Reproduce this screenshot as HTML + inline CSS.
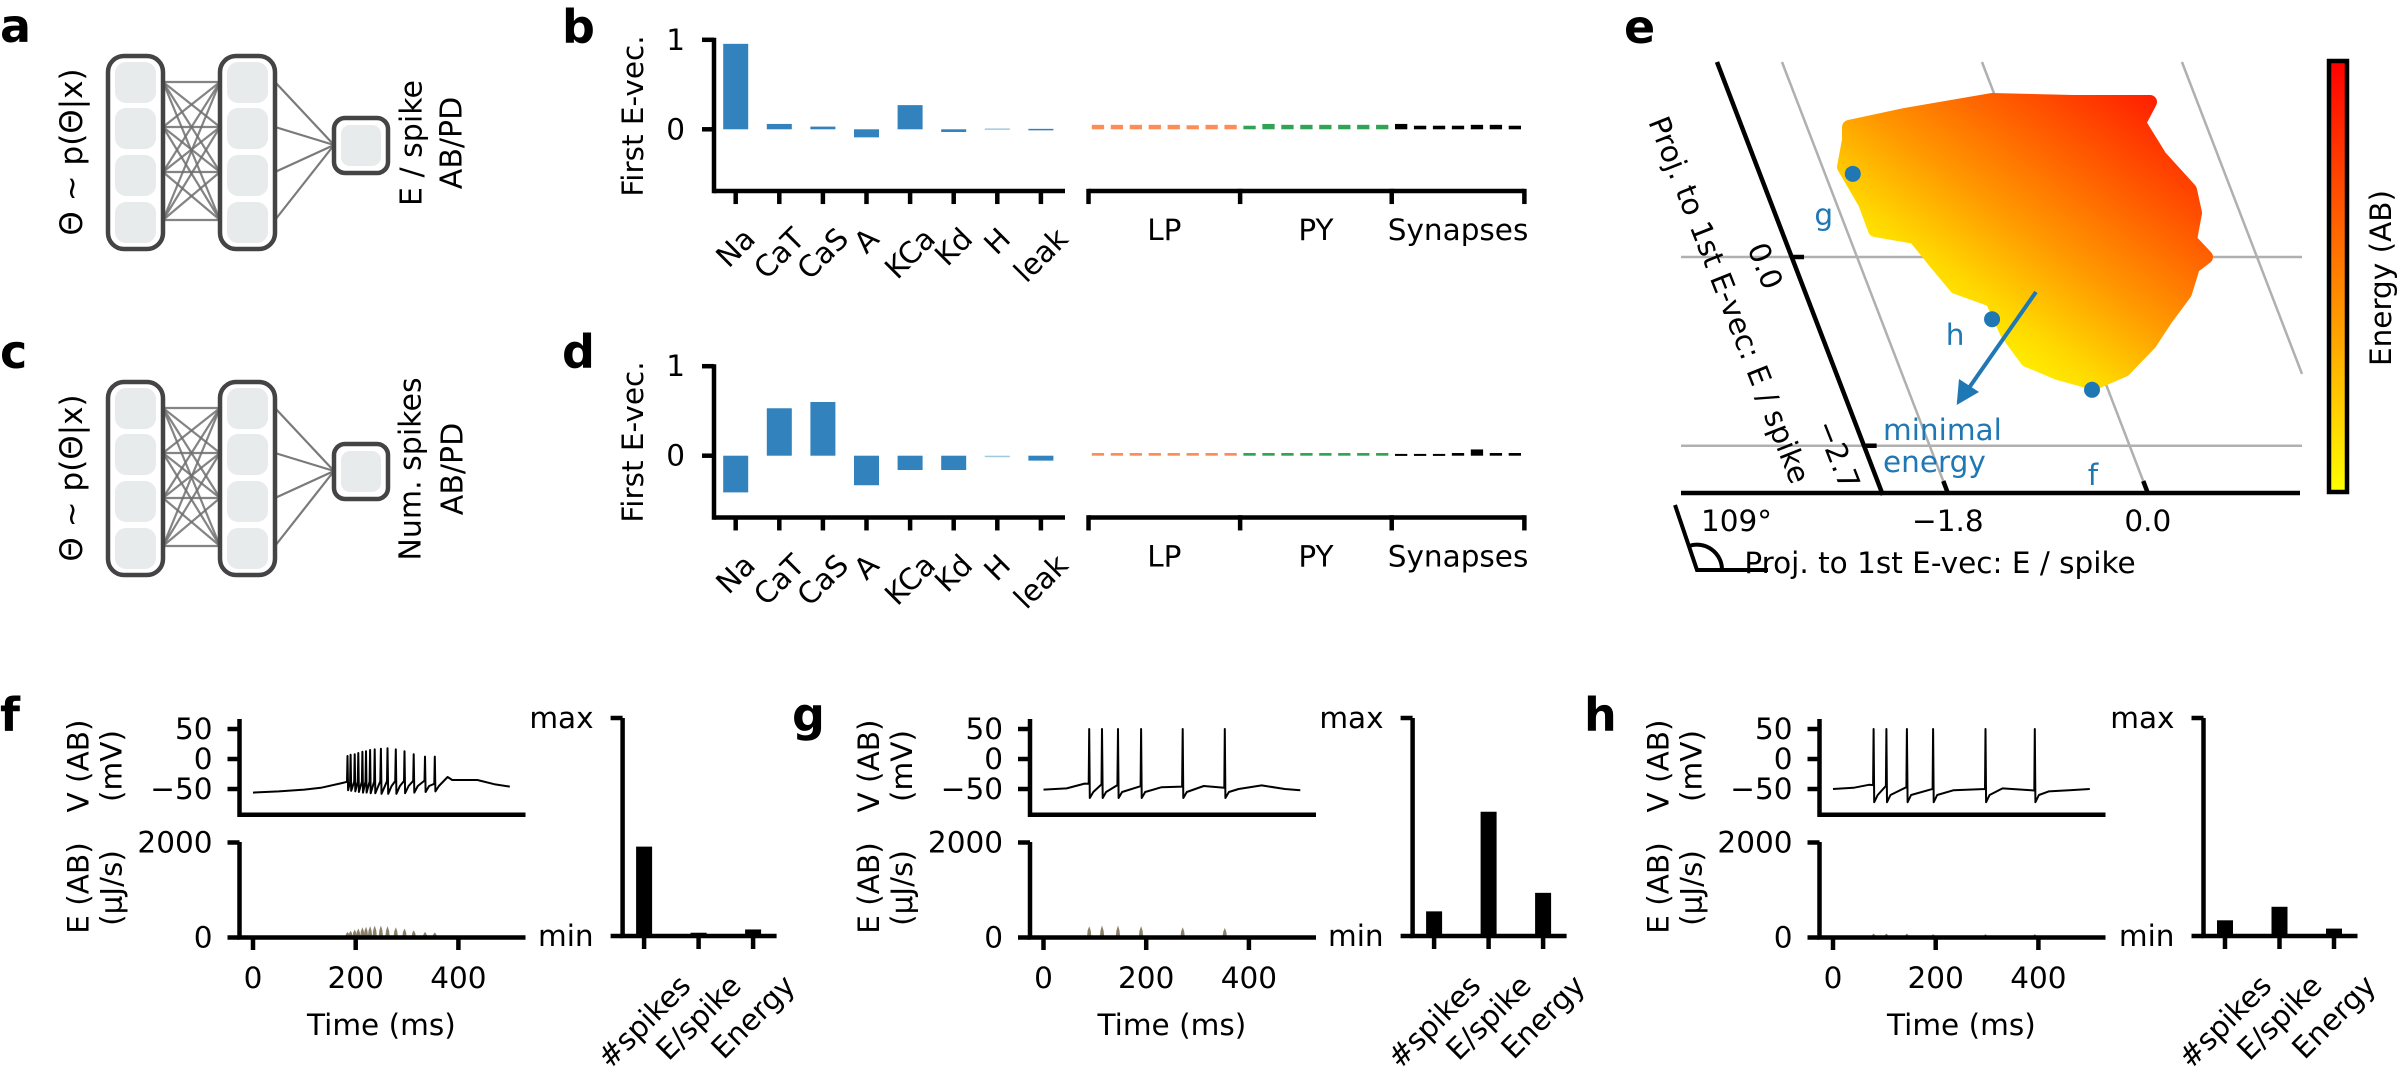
<!DOCTYPE html>
<html><head><meta charset="utf-8">
<style>
html,body{margin:0;padding:0;background:#fff}
svg{display:block}
text{font-family:"DejaVu Sans","Liberation Sans",sans-serif;fill:#000}
</style></head>
<body>
<svg id="fig" width="2398" height="1075" viewBox="0 0 2398 1075">
<defs>
<linearGradient id="cloudGrad" gradientUnits="userSpaceOnUse" x1="2150" y1="95" x2="1960" y2="360">
<stop offset="0" stop-color="#ff2000"/><stop offset="0.3" stop-color="#ff6000"/><stop offset="0.55" stop-color="#ff9800"/><stop offset="0.8" stop-color="#ffd800"/><stop offset="1" stop-color="#ffff00"/>
</linearGradient>
<linearGradient id="cbarGrad" x1="0" y1="0" x2="0" y2="1">
<stop offset="0" stop-color="#ff0000"/><stop offset="0.5" stop-color="#ff8000"/><stop offset="1" stop-color="#ffff00"/>
</linearGradient>
</defs>

<text x="0" y="42" font-size="46" font-weight="bold">a</text>
<text x="562" y="43" font-size="46" font-weight="bold">b</text>
<text x="0" y="368" font-size="46" font-weight="bold">c</text>
<text x="562" y="368" font-size="46" font-weight="bold">d</text>
<text x="1624" y="43" font-size="46" font-weight="bold">e</text>
<text x="0" y="731" font-size="46" font-weight="bold">f</text>
<text x="792" y="731" font-size="46" font-weight="bold">g</text>
<text x="1584" y="731" font-size="46" font-weight="bold">h</text>

<text transform="translate(72,152) rotate(-90)" text-anchor="middle" dominant-baseline="central" font-size="31">Θ ~ p(Θ|x)</text>
<text transform="translate(412,143) rotate(-90)" text-anchor="middle" dominant-baseline="central" font-size="30">E / spike</text>
<text transform="translate(452,143) rotate(-90)" text-anchor="middle" dominant-baseline="central" font-size="30">AB/PD</text>
<text transform="translate(72,478) rotate(-90)" text-anchor="middle" dominant-baseline="central" font-size="31">Θ ~ p(Θ|x)</text>
<text transform="translate(411,469) rotate(-90)" text-anchor="middle" dominant-baseline="central" font-size="30">Num. spikes</text>
<text transform="translate(453,469) rotate(-90)" text-anchor="middle" dominant-baseline="central" font-size="30">AB/PD</text>

<text transform="translate(633,116) rotate(-90)" text-anchor="middle" dominant-baseline="central" font-size="29.5">First E-vec.</text>
<text transform="translate(633,442) rotate(-90)" text-anchor="middle" dominant-baseline="central" font-size="29.5">First E-vec.</text>

<g id="panelE">
<polygon fill="url(#cloudGrad)" stroke="url(#cloudGrad)" stroke-width="14" stroke-linejoin="round"
points="1849,127 1905,115 1992,100 2073,102 2150,102 2139,123 2160,157 2190,190 2195,213 2190,240 2206,257 2193,267 2185,293 2165,320 2150,343 2124,370 2094,383 2058,373 2027,360 2007,333 1992,300 1956,287 1936,263 1915,237 1875,230 1865,203 1844,167 1849,140"/>
<text transform="translate(1729,300) rotate(68.5)" text-anchor="middle" dominant-baseline="central" font-size="29.5">Proj. to 1st E-vec: E / spike</text>
<text x="1940" y="573" text-anchor="middle" font-size="29.5">Proj. to 1st E-vec: E / spike</text>
<text x="1701" y="531" font-size="29.5">109°</text>
<path d="M1675,505 L1697,570 L1768,570 M1722,570 A25,25 0 0 0 1689,546" fill="none" stroke="#000" stroke-width="4"/>
<text x="1883" y="440" font-size="29.5" style="fill:#1f77b4">minimal</text>
<text x="1883" y="472" font-size="29.5" style="fill:#1f77b4">energy</text>
<rect x="2329" y="61" width="18" height="431" fill="url(#cbarGrad)" stroke="#000" stroke-width="4.5"/>
<text transform="translate(2381,278) rotate(-90)" text-anchor="middle" dominant-baseline="central" font-size="29.5">Energy (AB)</text>
</g>
</svg>

<script>
const channelLabels = ['Na','CaT','CaS','A','KCa','Kd','H','leak'];
const evecB = [0.955, 0.06, 0.03, -0.09, 0.27, -0.03, 0.01, 0.005];
const evecD = [-0.41, 0.53, 0.60, -0.33, -0.16, -0.16, -0.01, -0.055];
const lpB  = [0.05,0.05,0.05,0.05,0.05,0.045,0.05,0.05];
const pyB  = [0.04,0.06,0.05,0.05,0.05,0.05,0.05,0.05];
const synB = [0.06,0.04,0.04,0.04,0.05,0.05,0.04];
const lpD  = [0.03,0.03,0.03,0.03,0.03,0.03,0.03,0.03];
const pyD  = [0.03,0.03,0.03,0.03,0.03,0.03,0.03,0.03];
const synD = [0.02,0.02,0.02,0.03,0.07,0.03,0.03];
const groupLabels = ['LP','PY','Synapses'];
const evecTicks = [0, 1];

const eSampleLabels = ['g','h','f'];
const eSampleU = [-1.55, -0.80, -0.145];
const eSampleV = [1.19, -0.89, -1.90];
const eTicksU = [-1.8, 0.0];
const eTicksV = [0.0, -2.7];
const eGridU = [-1.8, 0.0, 1.8];

const vTicks = [50, 0, -50];
const eTicks = [2000, 0];
const timeTicks = [0, 200, 400];
const featLabels = ['#spikes','E/spike','Energy'];

const fSpikeT = [184,190,198,205,213,220,228,237,249,262,278,295,313,335,354];
const fPeak   = [5,7,8,10,12,13,15,16,17,18,16,13,8,4,4];
const fTrough = [-52,-53,-54,-55,-56,-56,-57,-57,-58,-58,-58,-57,-56,-55,-54];
const fBaseT  = [0,50,100,132,174,183,340,362,379,388,437,470,500];
const fBaseV  = [-56,-54,-51,-48,-40,-38,-36,-45,-30,-35,-35,-42,-46];
const fPostV  = -45;
const fEPeak  = [90,110,130,150,170,180,190,200,200,190,170,150,120,90,80];
const fBars   = [0.41, 0.015, 0.03];

const gSpikeT = [89,114,145,190,271,353];
const gPeak   = [50,50,50,50,50,50];
const gTrough = [-65,-65,-65,-65,-65,-65];
const gBaseT  = [0,45,80,230,312,380,425,470,500];
const gBaseV  = [-51,-49,-41,-47,-45,-50,-44,-50,-52];
const gPostV  = -55;
const gEPeak  = [190,200,200,190,170,160];
const gBars   = [0.113, 0.57, 0.198];

const hSpikeT = [79,104,144,195,297,393];
const hPeak   = [50,50,50,50,50,50];
const hTrough = [-72,-72,-72,-72,-72,-72];
const hBaseT  = [0,40,70,235,330,420,460,500];
const hBaseV  = [-50,-48,-43,-52,-49,-54,-52,-50];
const hPostV  = -60;
const hEPeak  = [60,60,60,50,50,50];
const hBars   = [0.072, 0.134, 0.034];

const NS = 'http://www.w3.org/2000/svg';
const svg = document.getElementById('fig');
function mk(tag, attrs, parent){
  const e = document.createElementNS(NS, tag);
  for (const k in attrs) e.setAttribute(k, attrs[k]);
  (parent || svg).appendChild(e);
  return e;
}
function interp(tArr, vArr, t){
  if (t <= tArr[0]) return vArr[0];
  for (let k = 1; k < tArr.length; k++){
    if (t <= tArr[k]){ const f = (t - tArr[k-1]) / (tArr[k] - tArr[k-1]); return vArr[k-1] + f * (vArr[k] - vArr[k-1]); }
  }
  return vArr[vArr.length - 1];
}
function rotLabel(str, cx, topY, fs, name){
  const t = mk('text', {'text-anchor':'middle','dominant-baseline':'central','font-size':fs});
  
  
  t.textContent = str;
  let w = 0; try { w = t.getComputedTextLength(); } catch(e){ w = str.length * fs * 0.6; }
  const cy = topY + (w + fs) * 0.7071 / 2;
  t.setAttribute('x', cx); t.setAttribute('y', cy);
  t.setAttribute('transform', 'rotate(-45,' + cx + ',' + cy + ')');
  return t;
}
const AXW = 4.5;

function drawNet(dy, tag){
  const g = mk('g', {});
  
  
  const cy = [82,127,172,220];
  for (let i = 0; i < 4; i++) for (let j = 0; j < 4; j++){
    const l = mk('line', {x1:163, y1:cy[i]+dy, x2:220, y2:cy[j]+dy, stroke:'#6e6e6e', 'stroke-width':2.2, 'stroke-opacity':0.85}, g);
    
    
  }
  for (let i = 0; i < 4; i++){
    const l = mk('line', {x1:275, y1:cy[i]+dy, x2:334, y2:145+dy, stroke:'#7a7a7a', 'stroke-width':2.2}, g);
    
    
  }
  [108, 220].forEach((x, li) => {
    const r = mk('rect', {x:x, y:56+dy, width:55, height:193, rx:16, fill:'#fff', stroke:'#444', 'stroke-width':4.5}, g);
    
    
    [62,108,155,202].forEach(yy => {
      const c = mk('rect', {x:x+7, y:yy+dy, width:41, height:41, rx:11, fill:'#e8ebeb'}, g);
      
      
    });
  });
  const o = mk('rect', {x:334, y:118+dy, width:54, height:55, rx:11, fill:'#fff', stroke:'#444', 'stroke-width':4.5}, g);
  
  
  const oc = mk('rect', {x:341, y:125+dy, width:40, height:41, rx:9, fill:'#e8ebeb'}, g);
  
  
}
drawNet(0, 'a');
drawNet(326, 'c');

function drawEvec(dy, vals, lp, py, syn, tag){
  const zero = 129.3 + dy, unit = 89.5, axisY = zero + 0.69 * unit, yAx = 714;
  const yS = v => zero - v * unit;
  const chanX = i => 735.7 + i * 43.6;
  const parX = i => 1098 + i * 18.95;
  vals.forEach((v, i) => {
    const r = mk('rect', {x:chanX(i)-12.5, y:Math.min(yS(v), zero), width:25, height:Math.max(Math.abs(yS(v)-zero), 1.5), fill: i===6 ? '#9ecae1' : '#3182bd'});
    
    
  });
  const groups = [[lp,'#fc8d59',0],[py,'#31a354',8],[syn,'#000',16]];
  groups.forEach((gr, gi) => {
    gr[0].forEach((v, k) => {
      const i = gr[2] + k;
      const r = mk('rect', {x:parX(i)-6.2, y:Math.min(yS(v), zero), width:12.3, height:Math.max(Math.abs(yS(v)-zero), 2), fill:gr[1]});
      
      
    });
  });
  const ya = mk('line', {x1:yAx, y1:yS(1)-2, x2:yAx, y2:axisY+AXW/2, stroke:'#000', 'stroke-width':AXW});
  
  
  evecTicks.forEach(t => {
    const tk = mk('line', {x1:yAx-12, y1:yS(t), x2:yAx, y2:yS(t), stroke:'#000', 'stroke-width':AXW});
    
    
    const tl = mk('text', {x:yAx-29, y:yS(t), 'text-anchor':'end', 'dominant-baseline':'central', 'font-size':29.5});
    
    
    tl.textContent = String(t);
  });
  const xa = mk('line', {x1:yAx, y1:axisY, x2:1065, y2:axisY, stroke:'#000', 'stroke-width':AXW});
  
  
  channelLabels.forEach((c, i) => {
    const tk = mk('line', {x1:chanX(i), y1:axisY, x2:chanX(i), y2:axisY+13, stroke:'#000', 'stroke-width':AXW});
    
    
    rotLabel(c, chanX(i), axisY + 32, 29.5, 'channel-label-' + tag);
  });
  const xb = mk('line', {x1:parX(-0.5), y1:axisY, x2:parX(22.5), y2:axisY, stroke:'#000', 'stroke-width':AXW});
  
  
  [-0.5, 7.5, 15.5, 22.5].forEach(b => {
    const tk = mk('line', {x1:parX(b), y1:axisY-AXW/2, x2:parX(b), y2:axisY+13, stroke:'#000', 'stroke-width':AXW});
    
    
  });
  [3.5, 11.5, 19].forEach((c, gi) => {
    const tl = mk('text', {x:parX(c), y:axisY+49, 'text-anchor':'middle', 'font-size':29.5});
    
    
    tl.textContent = groupLabels[gi];
  });
}
drawEvec(0, evecB, lpB, pyB, synB, 'b');
drawEvec(326.4, evecD, lpD, pyD, synD, 'd');

(function(){
  const gE = document.getElementById('panelE');
  const eX = (u, v) => 2057 + 111.1 * u - 26.9 * v;
  const eY = v => 257 - 69.9 * v;
  const vTop = (257 - 62) / 69.9, vBot = (257 - 493) / 69.9, xRight = 2302;
  const first = gE.firstChild;
  eGridU.forEach(u => {
    let x1 = eX(u, vTop), y1 = eY(vTop), x2 = eX(u, vBot), y2 = eY(vBot);
    if (x2 > xRight){ const vv = (2057 + 111.1*u - xRight) / 26.9; x2 = xRight; y2 = eY(vv); }
    const l = mk('line', {x1:x1, y1:y1, x2:x2, y2:y2, stroke:'#b0b0b0', 'stroke-width':2.5}, gE);
    gE.insertBefore(l, first);
    
    
  });
  eTicksV.forEach(v => {
    const l = mk('line', {x1:1681, y1:eY(v), x2:xRight, y2:eY(v), stroke:'#b0b0b0', 'stroke-width':2.5}, gE);
    gE.insertBefore(l, first);
    
    
  });
  const uAx = -2.385;
  const ax = mk('line', {x1:eX(uAx, vTop), y1:eY(vTop), x2:eX(uAx, vBot), y2:eY(vBot)+2, stroke:'#000', 'stroke-width':AXW}, gE);
  
  
  const bx = mk('line', {x1:1681, y1:493, x2:2300, y2:493, stroke:'#000', 'stroke-width':AXW}, gE);
  
  
  eTicksV.forEach(v => {
    const x0 = eX(uAx, v);
    const tk = mk('line', {x1:x0, y1:eY(v), x2:x0+12, y2:eY(v), stroke:'#000', 'stroke-width':AXW}, gE);
    
    
    const lx = x0 - 27, ly = eY(v) + 9;
    const tl = mk('text', {x:lx, y:ly, 'text-anchor':'middle', 'dominant-baseline':'central', 'font-size':29.5, transform:'rotate(68.5,' + lx + ',' + ly + ')'}, gE);
    
    
    tl.textContent = (v === 0 ? '0.0' : '\u2212' + Math.abs(v).toFixed(1));
  });
  eTicksU.forEach(u => {
    const tk = mk('line', {x1:eX(u, vBot+0.17), y1:eY(vBot+0.17), x2:eX(u, vBot), y2:eY(vBot), stroke:'#000', 'stroke-width':AXW}, gE);
    
    
    const tl = mk('text', {x:eX(u, vBot), y:531, 'text-anchor':'middle', 'font-size':29.5}, gE);
    
    
    tl.textContent = (u === 0 ? '0.0' : '\u2212' + Math.abs(u).toFixed(1));
  });
  const arr = mk('line', {x1:2036, y1:292, x2:1964, y2:395, stroke:'#1f77b4', 'stroke-width':4}, gE);
  
  
  const head = mk('polygon', {points:'1956.7,405 1979,392 1959,379', fill:'#1f77b4'}, gE);
  
  
  const labOff = {g:[-29,51], h:[-37,26], f:[1,95]};
  eSampleLabels.forEach((s, i) => {
    const px = eX(eSampleU[i], eSampleV[i]), py = eY(eSampleV[i]);
    const c = mk('circle', {cx:px, cy:py, r:8, fill:'#1f77b4'}, gE);
    
    
    const t = mk('text', {x:px + labOff[s][0], y:py + labOff[s][1], 'text-anchor':'middle', 'font-size':29.5, style:'fill:#1f77b4'}, gE);
    
    
    t.textContent = s;
  });
})();

function drawTrace(ax, sT, peaks, troughs, bT, bV, postV, ePk, bars, barAx, tag){
  const tX = t => ax + 13.5 + t * 0.5135;
  const vY = v => 759 - v * 0.6;
  const eYs = e => 937.5 - e * 0.0475;
  const bY = f => 936 - f * 218;
  const pts = [];
  bT.forEach((t, k) => { if (!sT.some(s => t >= s - 1.5 && t <= s + 9)) pts.push([t, bV[k]]); });
  sT.forEach((s, k) => {
    pts.push([s - 1, interp(bT, bV, s - 1)]);
    pts.push([s, peaks[k]]);
    pts.push([s + 1.2, troughs[k]]);
    const nx = sT[k+1];
    if (nx === undefined || nx - s > 14) pts.push([s + 8, postV]);
  });
  pts.sort((a, b) => a[0] - b[0]);
  const d = pts.map((p, i) => (i ? 'L' : 'M') + tX(p[0]).toFixed(1) + ',' + vY(p[1]).toFixed(1)).join(' ');
  const vp = mk('path', {d:d, fill:'none', stroke:'#000', 'stroke-width':2, 'stroke-linejoin':'round'});
  
  
  let ed = 'M' + tX(0) + ',' + eYs(0);
  sT.forEach((s, k) => {
    const p = ePk[k];
    [[s-3,0],[s-1.5,0.75*p],[s,p],[s+1.5,0.75*p],[s+3,0]].forEach(q => { ed += ' L' + tX(q[0]).toFixed(1) + ',' + eYs(q[1]).toFixed(1); });
  });
  ed += ' L' + tX(500) + ',' + eYs(0) + ' Z';
  const ep = mk('path', {d:ed, fill:'#8a816a', stroke:'#8a816a', 'stroke-width':1.5});
  
  
  const va = mk('path', {d:'M' + ax + ',719 L' + ax + ',814.7 L' + (ax+286) + ',814.7', fill:'none', stroke:'#000', 'stroke-width':AXW});
  
  
  vTicks.forEach(v => {
    const tk = mk('line', {x1:ax-12, y1:vY(v), x2:ax, y2:vY(v), stroke:'#000', 'stroke-width':AXW});
    
    
    const tl = mk('text', {x:ax-27, y:vY(v), 'text-anchor':'end', 'dominant-baseline':'central', 'font-size':29.5});
    
    
    tl.textContent = v < 0 ? '\u2212' + Math.abs(v) : String(v);
  });
  const ea = mk('path', {d:'M' + ax + ',842 L' + ax + ',937.5 L' + (ax+286) + ',937.5', fill:'none', stroke:'#000', 'stroke-width':AXW});
  
  
  eTicks.forEach(e => {
    const tk = mk('line', {x1:ax-12, y1:eYs(e), x2:ax, y2:eYs(e), stroke:'#000', 'stroke-width':AXW});
    
    
    const tl = mk('text', {x:ax-27, y:eYs(e), 'text-anchor':'end', 'dominant-baseline':'central', 'font-size':29.5});
    
    
    tl.textContent = String(e);
  });
  timeTicks.forEach(t => {
    const tk = mk('line', {x1:tX(t), y1:937.5, x2:tX(t), y2:950, stroke:'#000', 'stroke-width':AXW});
    
    
    const tl = mk('text', {x:tX(t), y:988, 'text-anchor':'middle', 'font-size':29.5});
    
    
    tl.textContent = String(t);
  });
  const tt = mk('text', {x:tX(250), y:1035, 'text-anchor':'middle', 'font-size':29.5});
  
  
  tt.textContent = 'Time (ms)';
  [['V (AB)', ax-161, 766], ['(mV)', ax-128, 766], ['E (AB)', ax-161, 888], ['(\u03bcJ/s)', ax-128, 888]].forEach((L, i) => {
    const t = mk('text', {x:L[1], y:L[2], 'text-anchor':'middle', 'dominant-baseline':'central', 'font-size':29.5, transform:'rotate(-90,' + L[1] + ',' + L[2] + ')'});
    
    
    t.textContent = L[0];
  });
  const fx = i => barAx + 21.5 + i * 54.5;
  bars.forEach((b, i) => {
    const r = mk('rect', {x:fx(i)-8, y:bY(b), width:16, height:936-bY(b), fill:'#000'});
    
    
  });
  const ba = mk('path', {d:'M' + barAx + ',718 L' + barAx + ',936 L' + (barAx+154) + ',936', fill:'none', stroke:'#000', 'stroke-width':AXW});
  
  
  [[718,'max'],[936,'min']].forEach(m => {
    const tk = mk('line', {x1:barAx-12, y1:m[0], x2:barAx, y2:m[0], stroke:'#000', 'stroke-width':AXW});
    
    
    const tl = mk('text', {x:barAx-29, y:m[0], 'text-anchor':'end', 'dominant-baseline':'central', 'font-size':29.5});
    
    
    tl.textContent = m[1];
  });
  featLabels.forEach((f, i) => {
    const tk = mk('line', {x1:fx(i), y1:936, x2:fx(i), y2:949, stroke:'#000', 'stroke-width':AXW});
    
    
    rotLabel(f, fx(i), 970, 29.5, 'feature-label-' + tag);
  });
}
drawTrace(239.5, fSpikeT, fPeak, fTrough, fBaseT, fBaseV, fPostV, fEPeak, fBars, 622.6, 'f');
drawTrace(1030, gSpikeT, gPeak, gTrough, gBaseT, gBaseV, gPostV, gEPeak, gBars, 1412.6, 'g');
drawTrace(1819.5, hSpikeT, hPeak, hTrough, hBaseT, hBaseV, hPostV, hEPeak, hBars, 2203.5, 'h');
</script>
</body></html>
